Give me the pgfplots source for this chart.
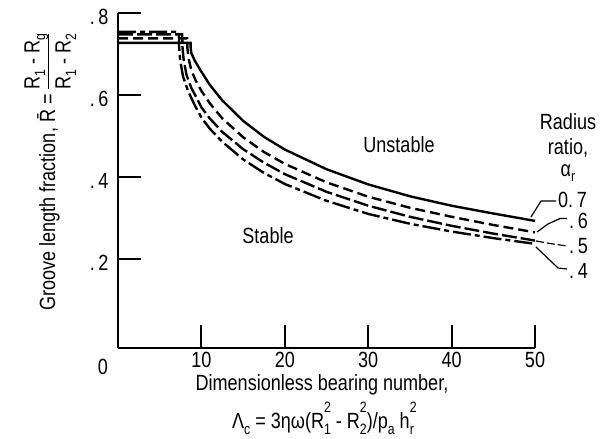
\documentclass[border=0pt]{standalone}
\usepackage{fontspec}
\setmainfont{Liberation Sans}[FakeStretch=0.82]
\usepackage{pgfplots}
\pgfplotsset{compat=1.18}
\usepackage{pgfplotstable}

\pgfplotstableread{
x y
0 0.727
8.7 0.727
8.72 0.712
8.8 0.702
9.2 0.684
9.9 0.660
11 0.625
12.5 0.587
15 0.537
17.5 0.498
20 0.467
25 0.419
30 0.382
35 0.353
40 0.330
45 0.311
50 0.293
}\seven

\pgfplotstableread{
x y
0 0.738
8.3 0.738
8.32 0.715
8.45 0.690
8.8 0.660
9.3 0.636
10 0.610
11 0.580
12.5 0.543
15 0.497
17.5 0.461
20 0.432
25 0.387
30 0.352
35 0.325
40 0.303
45 0.283
50 0.265
}\six

\pgfplotstableread{
x y
0 0.748
7.7 0.748
7.72 0.720
7.85 0.690
8.2 0.650
8.8 0.617
9.5 0.590
10 0.570
11 0.543
12.5 0.510
15 0.468
17.5 0.435
20 0.407
25 0.364
30 0.330
35 0.303
40 0.281
45 0.262
50 0.245
}\five

\pgfplotstableread{
x y
0 0.754
7.3 0.754
7.32 0.720
7.45 0.685
7.8 0.645
8.4 0.610
9.2 0.575
10 0.545
11 0.518
12.5 0.486
15 0.443
17.5 0.410
20 0.383
25 0.342
30 0.310
35 0.286
40 0.267
45 0.251
50 0.237
}\four

\newcommand{\supsub}[2]{\rlap{\raisebox{0.75em}{\fontsize{15}{15}\selectfont #1}}\raisebox{-0.25em}{\fontsize{15}{15}\selectfont #2}}
\newcommand{\sub}[1]{\raisebox{-0.25em}{\fontsize{15}{15}\selectfont #1}}

\begin{document}
\begin{tikzpicture}[font=\fontsize{22}{26}\selectfont]
\path[use as bounding box] (0,0) rectangle (608pt,439pt);
\begin{axis}[
  scale only axis, width=417pt, height=335pt,
  at={(118pt,91pt)}, anchor=south west,
  xmin=0, xmax=50, ymin=-0.017, ymax=0.8,
  axis x line=bottom, axis y line=left,
  axis line style={-, line width=2pt},
  tick align=inside, major tick length=23pt,
  tick style={line width=2pt, black},
  xtick={10,20,30,40,50}, xticklabels={10,20,30,40,50},
  ytick={0.2,0.4,0.6,0.8}, yticklabels={.\,2,.\,4,.\,6,.\,8},
  xticklabel style={yshift=-1pt},
  yticklabel style={xshift=-6pt, yshift=-4pt},
  clip=false,
]
\addplot[black, line width=2.4pt] table {\seven};
\addplot[black, line width=2.4pt, dash pattern=on 10pt off 5pt] table {\six};
\addplot[black, line width=2.4pt, dash pattern=on 15pt off 4pt] table {\five};
\addplot[black, line width=2.4pt, dash pattern=on 18pt off 4pt on 5pt off 4pt] table {\four};
\end{axis}
\begin{scope}[shift={(0,439pt)}, x=1pt, y=-1pt]
  \node at (103,367) {0};
  \node at (399,145) {Unstable};
  \node at (268,236) {Stable};
  \node at (568,122) {Radius};
  \node at (568,148) {ratio,};
  \node at (568,173) {α\sub{r}};
  \node[anchor=west, inner sep=1pt] at (557,200) {0.\,7};
  \node[anchor=west, inner sep=1pt] at (568,221) {.\,6};
  \node[anchor=west, inner sep=1pt] at (568,246) {.\,5};
  \node[anchor=west, inner sep=1pt] at (568,271) {.\,4};
  \draw[line width=1.2pt] (531,217) -- (541,201) -- (556,201);
  \draw[line width=1.2pt] (537,232) -- (548,224) -- (560,218.5) -- (567,218.5);
  \draw[line width=1.2pt, dash pattern=on 8pt off 3pt] (536,241) -- (550,243.5) -- (567,246);
  \draw[line width=1.2pt] (536,247) -- (558,268) -- (567,269);
  \node at (322,385) {Dimensionless bearing number,};
  \node at (323,418) {Λ\sub{c} = 3ηω(R\supsub{2}{1} - R\supsub{2}{2})/p\sub{a} h\supsub{2}{r}};
  \node[rotate=90] at (50,172) {Groove length fraction,\ \={R} = \begin{tabular}{@{}c@{}}R\sub{1} - R\sub{g}\\[0pt]\hline\rule{0pt}{22pt}R\sub{1} - R\sub{2}\end{tabular}};
\end{scope}
\end{tikzpicture}
\end{document}
